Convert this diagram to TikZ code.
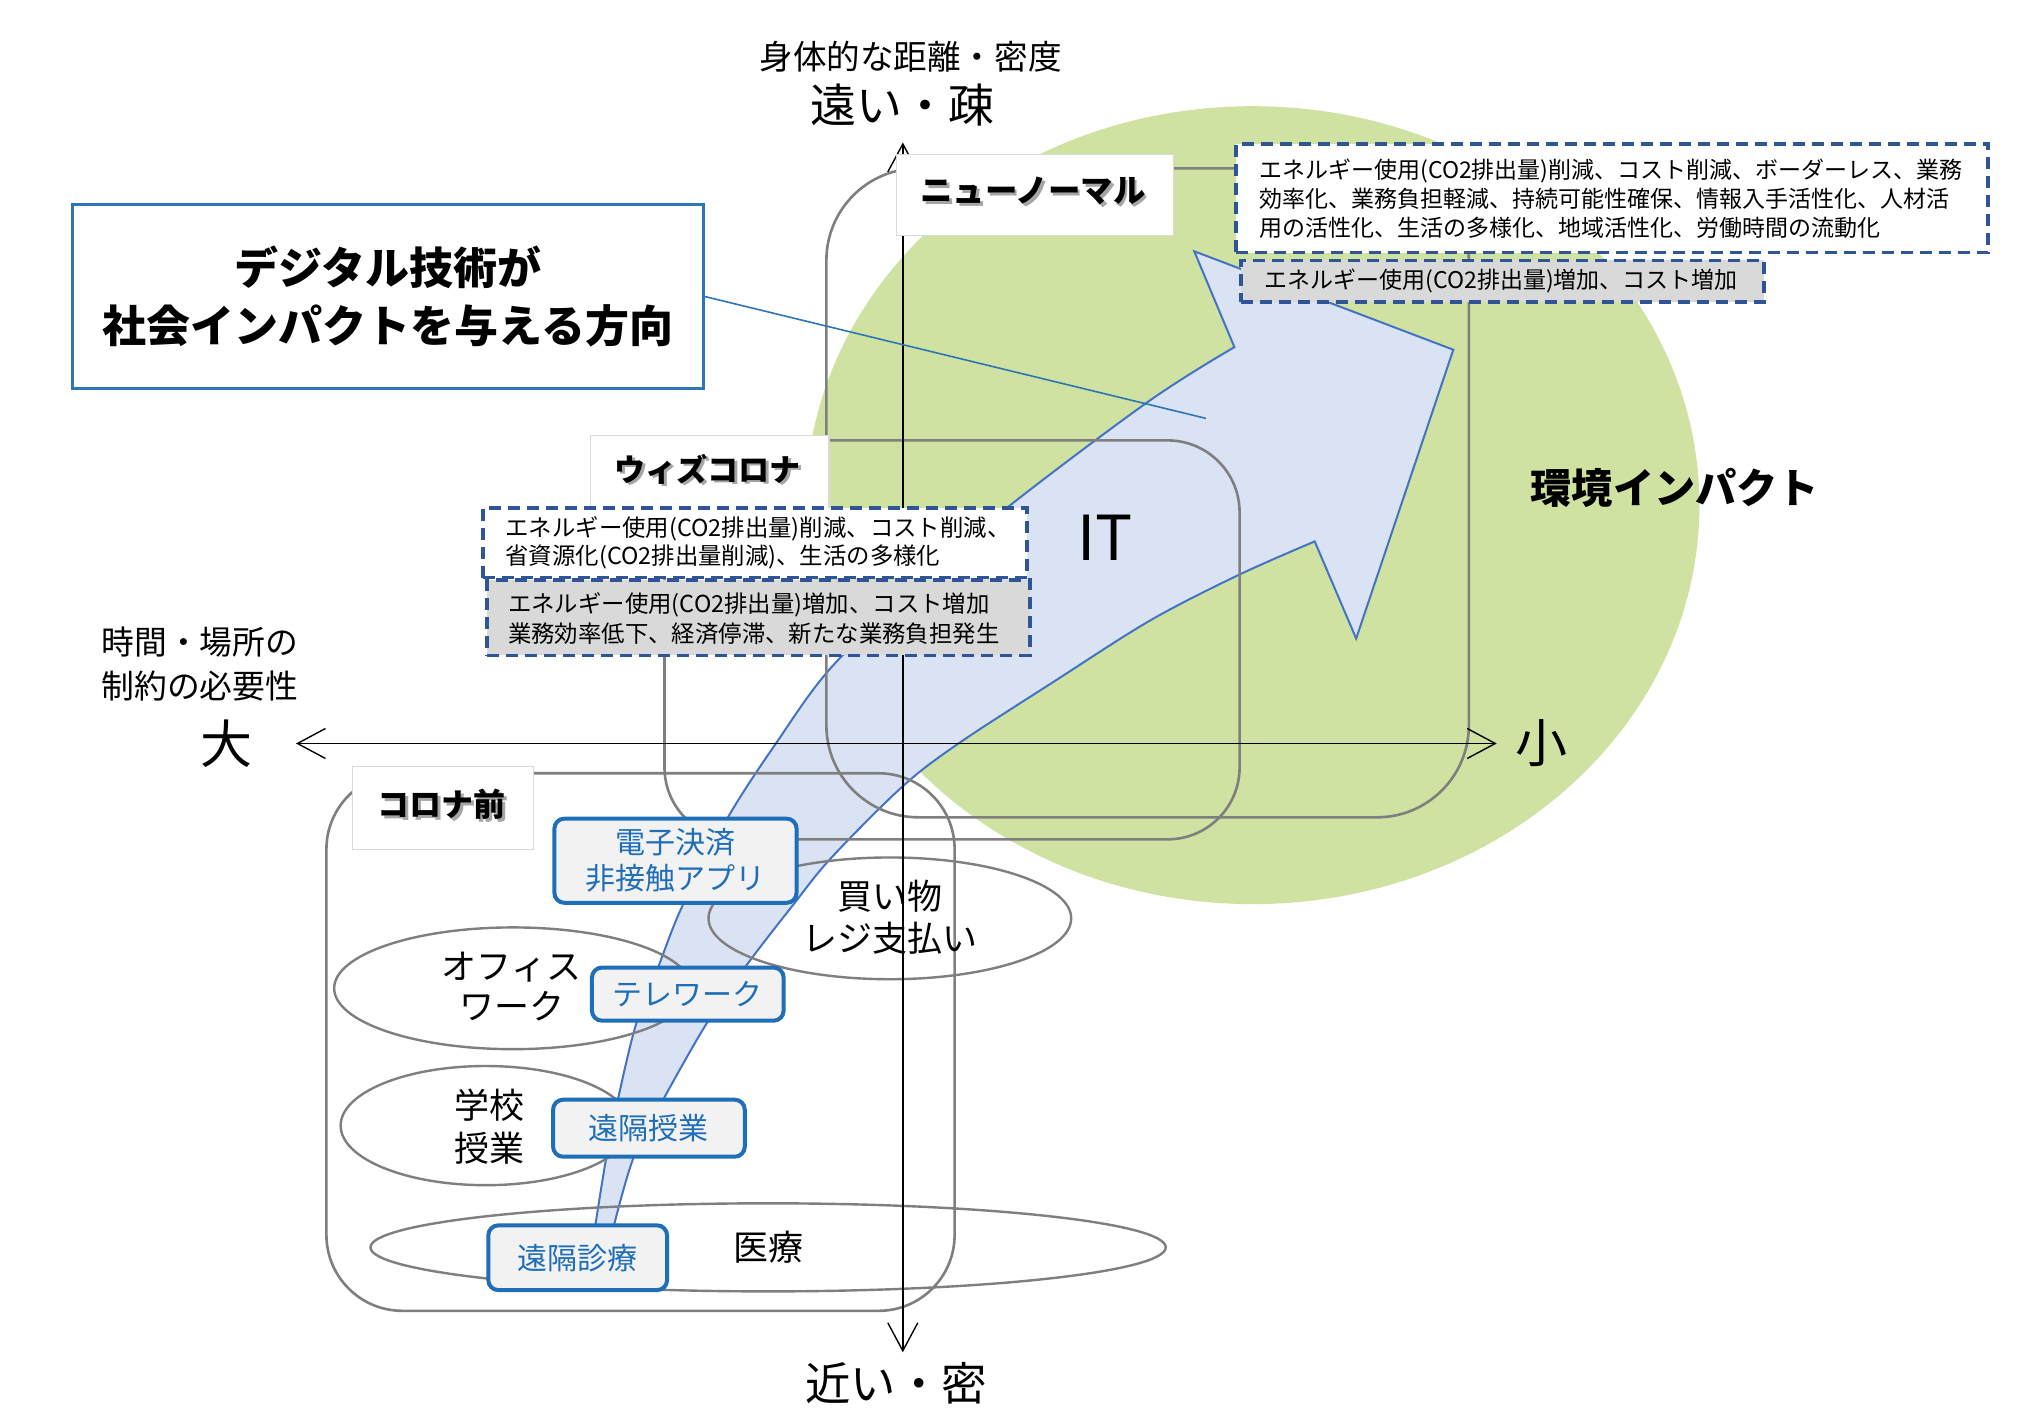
\documentclass[tikz,border=0pt]{standalone}
\usepackage{fontspec}
\setmainfont{Noto Sans CJK JP}
\usetikzlibrary{arrows.meta}
\definecolor{ngreen}{HTML}{CFE2A1}
\definecolor{afill}{HTML}{DAE3F3}
\definecolor{aedge}{HTML}{4472C4}
\definecolor{dblue}{HTML}{2F5597}
\definecolor{lgray}{HTML}{D9D9D9}
\definecolor{mgray}{HTML}{7F7F7F}
\definecolor{bblue}{HTML}{1F6EB8}
\definecolor{tblue}{HTML}{2E75B6}
\definecolor{bfill}{HTML}{F2F2F2}
\definecolor{shgray}{HTML}{A6A6A6}
\newcommand{\fs}[2]{\fontsize{#1}{#2}\selectfont}
\newcommand{\uu}{0.6477pt}
\begin{document}
\begin{tikzpicture}[x=0.6477pt, y=-0.6477pt,
  grp/.style={draw=mgray, line width=1.3pt, rounded corners=#1},
  oval/.style={draw=mgray, line width=1.2pt},
  axisline/.style={line width=0.7pt, black, {Straight Barb[length=14pt,width=15pt]}-{Straight Barb[length=14pt,width=15pt]}},
  lbl/.style={draw=lgray, line width=0.6pt, fill=white, inner sep=0pt},
  dbox/.style={draw=dblue, line width=1.8pt, dash pattern=on 6pt off 3.5pt, inner sep=0pt},
  bbox/.style={draw=bblue, fill=bfill, line width=2pt, rounded corners=5pt, inner sep=0pt, text=bblue, align=center, font=\fs{15pt}{18pt}},
  txt/.style={inner sep=0pt, align=center},
  ltxt/.style={inner sep=0pt, align=left, anchor=west},
]
\useasboundingbox (0,0) rectangle (1568,1100);
\fill[white] (0,0) rectangle (1568,1100);
% green impact ellipse
\fill[ngreen] (967,390) ellipse [x radius=345, y radius=308];
% big curved arrow
\filldraw[fill=afill, draw=aedge, line width=1pt]
  (459,950) -- plot[smooth, tension=0.55] coordinates {(459,950) (468,894) (477,849) (491,791) (508,747) (527,699) (562,631) (599,574) (642,515) (710,450) (780,390) (888,309) (953,268)}
  -- (922,194) -- (1122,270) -- (1047,493) -- (1015,418)
  -- plot[smooth, tension=0.55] coordinates {(1015,418) (956,444) (888,479) (814,526) (740,574) (697,607) (642,662) (612,699) (575,747) (545,791) (512,849) (489,894) (473,950)}
  -- cycle;
% phase groups
\draw[grp=46pt] (638,130) rectangle (1134,631);
\draw[grp=36pt] (513,340) rectangle (957,648);
\draw[grp=38pt] (252,597) rectangle (737,1012);
% activity ellipses
\draw[oval] (687,709) ellipse [x radius=140, y radius=47];
\draw[oval] (396,763) ellipse [x radius=138, y radius=47];
\draw[oval] (375,869) ellipse [x radius=112, y radius=46];
\draw[oval] (593,963) ellipse [x radius=307, y radius=34];
% axes
\coordinate (axT) at (697,110);
\coordinate (axB) at (697,1044);
\coordinate (axL) at (228.5,574);
\coordinate (axR) at (1155.5,574);
\draw[axisline] (axB) -- (axT);
\draw[axisline] (axL) -- (axR);
% title and leader
\node[draw=tblue, line width=1.8pt, fill=white, minimum width=487*\uu, minimum height=142*\uu, inner sep=0pt, align=center, font=\bfseries\fs{22pt}{29pt}] (title) at (299.5,229) {デジタル技術が\\社会インパクトを与える方向};
\coordinate (ldr) at (931,323);
\draw[tblue, line width=0.8pt] (title.east) -- (ldr);
% phase labels
\node[lbl, minimum width=214*\uu, minimum height=63*\uu] (nnbox) at (799,150.5) {};
\node[txt, text=shgray, font=\bfseries\fs{16.2pt}{18pt}] (nnsh) at (799.5,149.5) {ニューノーマル};
\node[txt, font=\bfseries\fs{16.2pt}{18pt}] (nnt) at (797.5,147.5) {ニューノーマル};
\node[lbl, minimum width=184*\uu, minimum height=62*\uu] (wcbox) at (548,367) {};
\node[txt, text=shgray, font=\bfseries\fs{15.5pt}{18pt}] (wcsh) at (548.5,364) {ウィズコロナ};
\node[txt, font=\bfseries\fs{15.5pt}{18pt}] (wct) at (546.5,362) {ウィズコロナ};
\node[lbl, minimum width=140*\uu, minimum height=64*\uu] (kbbox) at (342,624) {};
\node[txt, text=shgray, font=\bfseries\fs{16pt}{18pt}] (kbsh) at (343,623) {コロナ前};
\node[txt, font=\bfseries\fs{16pt}{18pt}] (kbt) at (341,621) {コロナ前};
% effect boxes
\node[dbox, fill=white, minimum width=581*\uu, minimum height=84*\uu] (nnpos) at (1244.5,153) {};
\node[ltxt, font=\fs{11.5pt}{14.6pt}] (nnpost) at (972,153.5) {エネルギー使用(CO2排出量)削減、コスト削減、ボーダーレス、業務\\効率化、業務負担軽減、持続可能性確保、情報入手活性化、人材活\\用の活性化、生活の多様化、地域活性化、労働時間の流動化};
\node[dbox, fill=lgray, minimum width=404*\uu, minimum height=32*\uu] (nnneg) at (1160,217) {};
\node[ltxt, font=\fs{11.5pt}{14.6pt}] (nnnegt) at (976,217) {エネルギー使用(CO2排出量)増加、コスト増加};
\node[dbox, fill=white, minimum width=420*\uu, minimum height=54*\uu] (wcpos) at (583,419) {};
\node[ltxt, font=\fs{11.7pt}{14.3pt}] (wcpost) at (390,419) {エネルギー使用(CO2排出量)削減、コスト削減、\\省資源化(CO2排出量削減)、生活の多様化};
\node[dbox, fill=lgray, minimum width=419*\uu, minimum height=58*\uu] (wcneg) at (585.5,477) {};
\node[ltxt, font=\fs{11.7pt}{14.9pt}] (wcnegt) at (392,477.5) {エネルギー使用(CO2排出量)増加、コスト増加\\業務効率低下、経済停滞、新たな業務負担発生};
% digital solutions
\node[bbox, minimum width=187*\uu, minimum height=65*\uu] (b1) at (521.5,664.5) {電子決済\\非接触アプリ};
\node[bbox, minimum width=148*\uu, minimum height=41*\uu] (b2) at (531,767.5) {テレワーク};
\node[bbox, minimum width=148*\uu, minimum height=44*\uu] (b3) at (501,871) {遠隔授業};
\node[bbox, minimum width=138*\uu, minimum height=50*\uu] (b4) at (446,971) {遠隔診療};
% activity texts
\node[txt, font=\fs{17.5pt}{20.7pt}] (shop) at (687,708) {買い物\\レジ支払い};
\node[txt, font=\fs{17.5pt}{20pt}] (office) at (395,761.5) {オフィス\\ワーク};
\node[txt, font=\fs{17.5pt}{21.4pt}] (school) at (378,869.5) {学校\\授業};
\node[txt, font=\fs{17.5pt}{20pt}] (med) at (593,963) {医療};
% other labels
\node[txt, font=\fs{31pt}{34pt}] (it) at (853,415) {IT};
\node[txt, font=\bfseries\fs{20.6pt}{24pt}] (env) at (1293,377) {環境インパクト};
\node[txt, font=\fs{16.8pt}{20pt}] (yax1) at (703,44) {身体的な距離・密度};
\node[txt, font=\fs{23pt}{26pt}] (yax2) at (697,81) {遠い・疎};
\node[txt, font=\fs{22.7pt}{26pt}] (yax3) at (692,1068) {近い・密};
\node[ltxt, font=\fs{16.4pt}{22pt}] (xax1) at (78,513) {時間・場所の\\制約の必要性};
\node[txt, font=\fs{26pt}{28pt}] (xax2) at (175,574) {大};
\node[txt, font=\fs{26pt}{28pt}] (xax3) at (1190,574) {小};
\end{tikzpicture}
\end{document}
